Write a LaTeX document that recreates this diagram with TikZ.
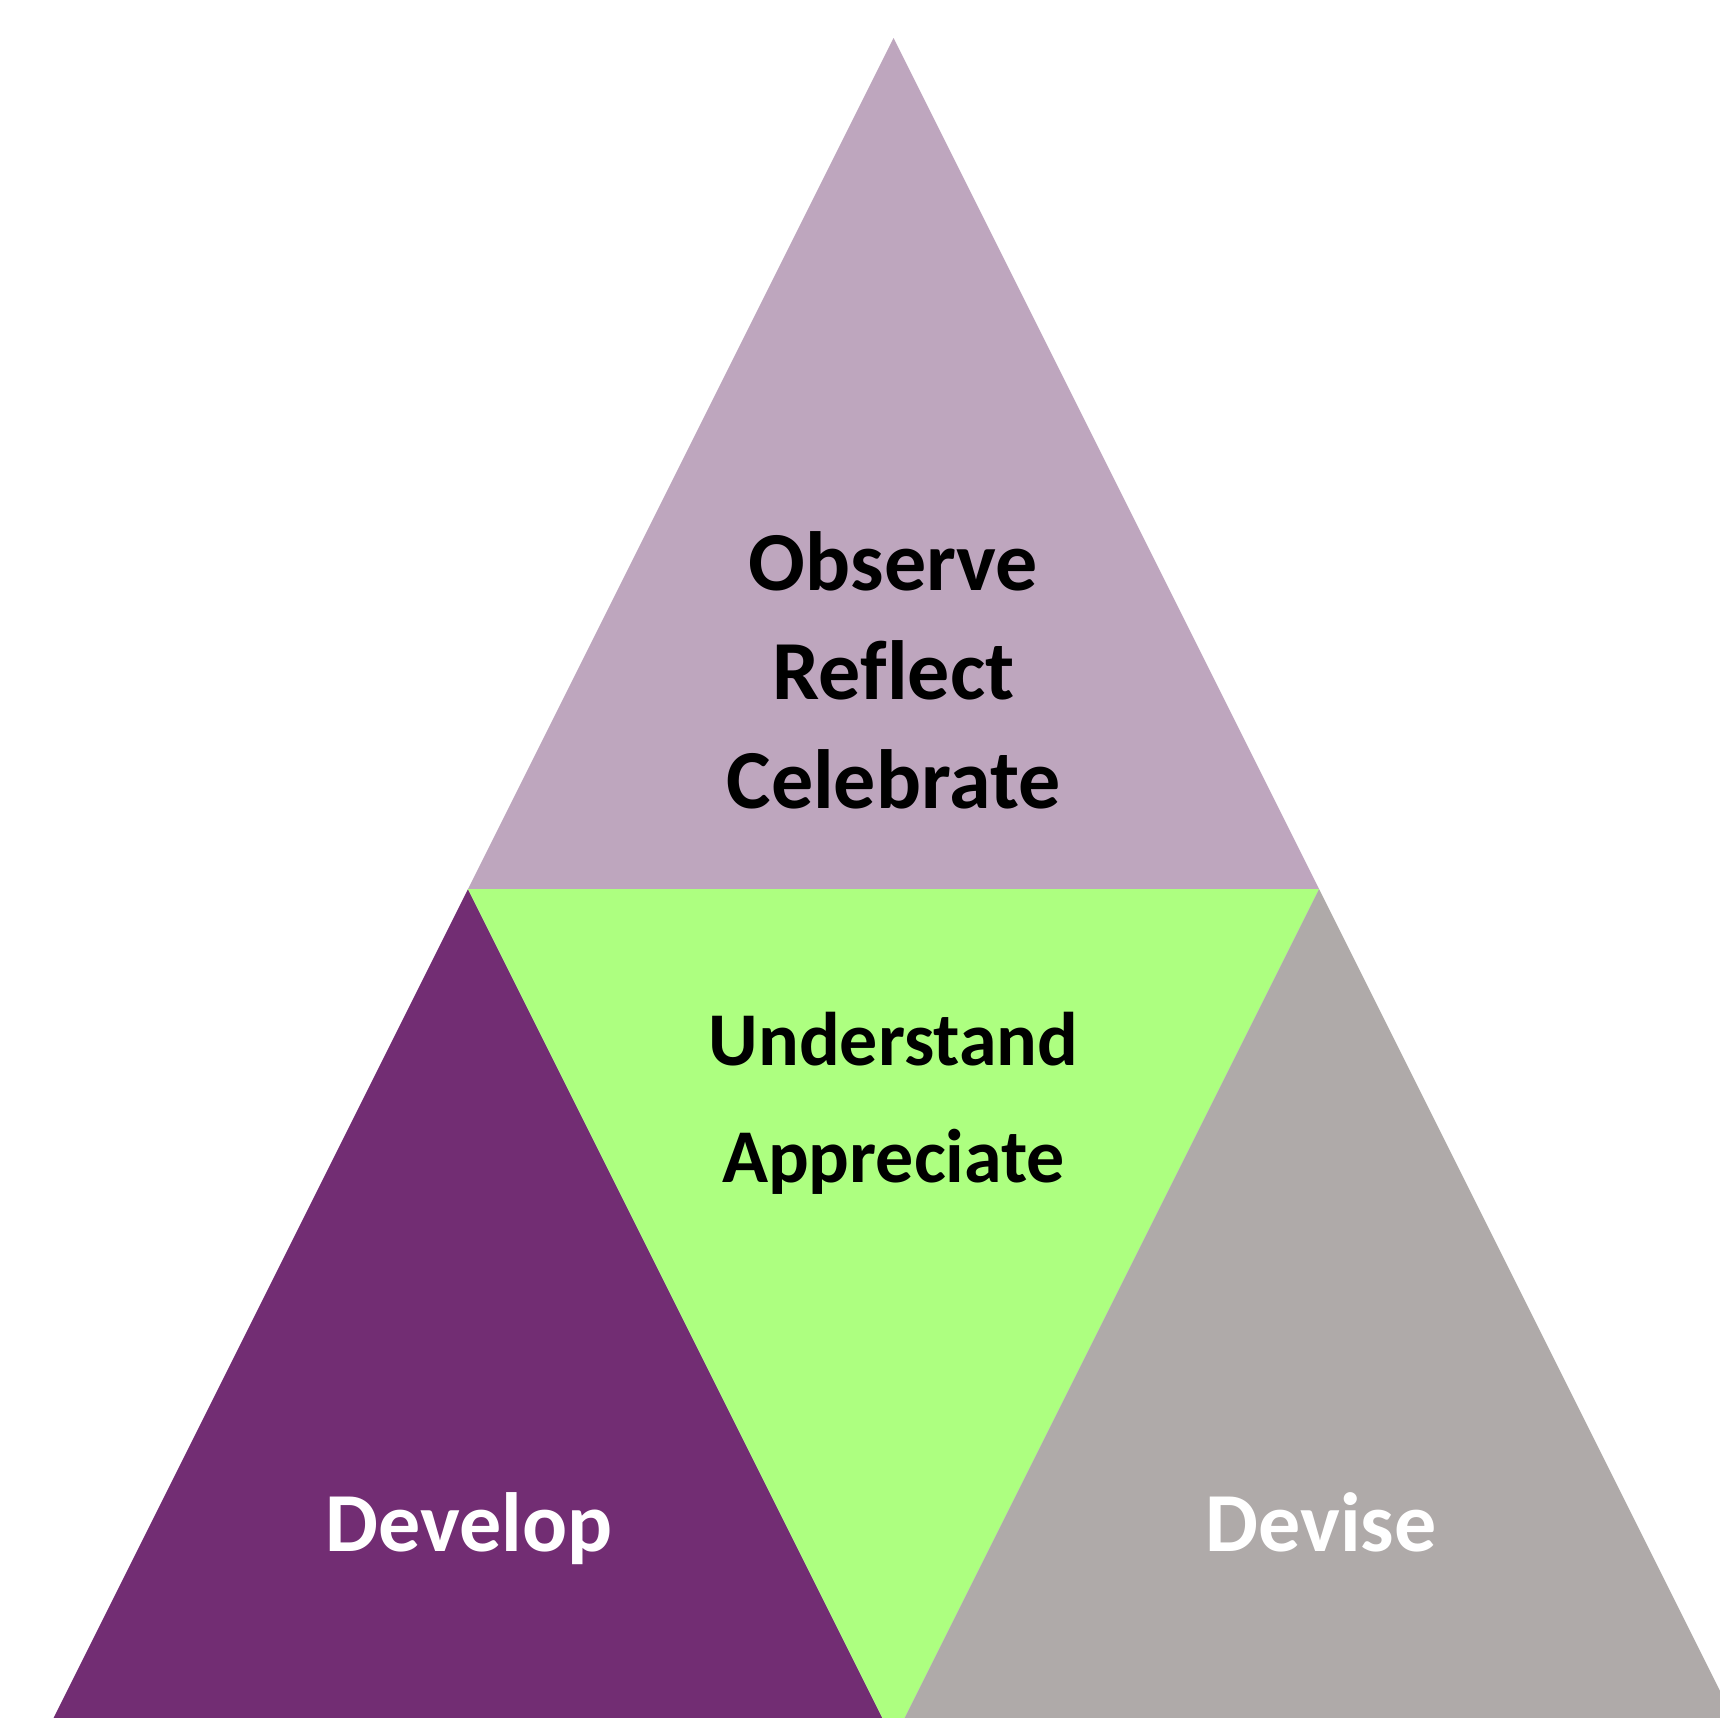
\documentclass[tikz,border=0pt]{standalone}
\usepackage{fontspec}
\setmainfont{Carlito}[Ligatures=NoCommon]
\definecolor{mauve}{HTML}{BEA6BE}
\definecolor{plum}{HTML}{722D73}
\definecolor{lime}{HTML}{ADFF80}
\definecolor{stone}{HTML}{AFAAA9}
\tikzset{
  tri/.style={draw=none},
  bigtxt/.style={font=\fontsize{84pt}{100pt}\selectfont\bfseries, inner sep=0pt, anchor=base},
  midtxt/.style={font=\fontsize{76pt}{90pt}\selectfont\bfseries, inner sep=0pt, anchor=base}
}
\begin{document}
\begin{tikzpicture}[x=1pt,y=-1pt]
\useasboundingbox (0,0) rectangle (1720,1717);
\fill[white] (0,0) rectangle (1720,1717);
\clip (0,0) rectangle (1720,1717);
\coordinate (apex) at (893.5,38);
\coordinate (ml) at (468,889);
\coordinate (mr) at (1319,889);
\coordinate (bl) at (42.5,1740);
\coordinate (bm) at (893.5,1740);
\coordinate (br) at (1744.5,1740);
\fill[mauve,tri] (apex) -- (ml) -- (mr) -- cycle;
\fill[plum,tri] (ml) -- (bl) -- (bm) -- cycle;
\fill[lime,tri] (ml) -- (mr) -- (bm) -- cycle;
\fill[stone,tri] (mr) -- (bm) -- (br) -- cycle;
\node[bigtxt] (obs) at (893.5,590) {Observe};
\node[bigtxt] (refl) at (893.5,699) {Reflect};
\node[bigtxt] (cel) at (893.5,808) {Celebrate};
\node[midtxt] (und) at (893.5,1065) {Understand};
\node[midtxt] (app) at (893.5,1182) {Appreciate};
\node[bigtxt,white] (dev) at (469,1551) {Develop};
\node[bigtxt,white] (dvs) at (1321,1551) {Devise};
\end{tikzpicture}
\end{document}
